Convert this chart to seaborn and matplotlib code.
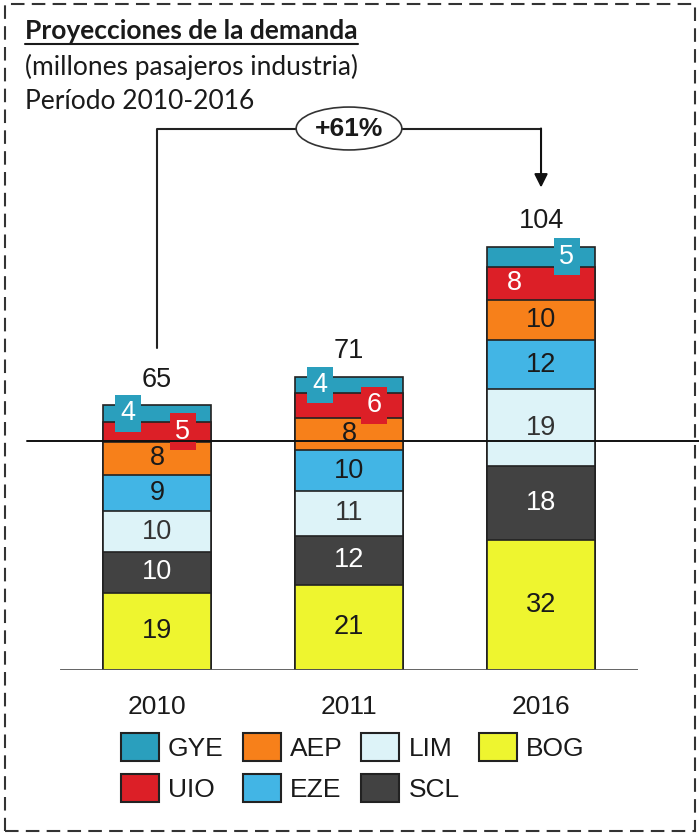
import pandas as pd
import seaborn as sns
import matplotlib.pyplot as plt
from matplotlib.patches import Patch, Rectangle
from matplotlib.lines import Line2D

# Data (millions of passengers)
years = ['2010', '2011', '2016']
airports = ['GYE', 'UIO', 'AEP', 'EZE', 'LIM', 'SCL', 'BOG']  # top to bottom of each bar
gye = [4, 4, 5]
uio = [5, 6, 8]
aep = [8, 8, 10]
eze = [9, 10, 12]
lim = [10, 11, 19]
scl = [10, 12, 18]
bog = [19, 21, 32]
totals = [65, 71, 104]
growth_label = '+61%'

title = 'Proyecciones de la demanda'
subtitle = '(millones pasajeros industria)'
period = 'Período 2010-2016'

# Styles
colors = {'GYE': '#2a9fbd', 'UIO': '#dc1f27', 'AEP': '#f7801a', 'EZE': '#42b5e5',
          'LIM': '#ddf3f8', 'SCL': '#424242', 'BOG': '#eef52f'}
text_colors = {'GYE': 'white', 'UIO': 'white', 'AEP': '#1a1a1a', 'EZE': '#1a1a1a',
               'LIM': '#333333', 'SCL': 'white', 'BOG': '#1a1a1a'}
# horizontal nudges of the small-segment labels (fraction of category step)
label_dx = {'GYE': [-0.15, -0.15, 0.135], 'UIO': [0.135, 0.13, -0.14]}
num_font = 'Liberation Sans'
head_font = 'Lato'

values = {'GYE': gye, 'UIO': uio, 'AEP': aep, 'EZE': eze, 'LIM': lim, 'SCL': scl, 'BOG': bog}
rows = []
for i, y in enumerate(years):
    cum = 0
    for a in reversed(airports):  # stack from the bottom (BOG) upward
        v = values[a][i]
        rows.append({'year': y, 'airport': a, 'value': v, 'bottom': cum, 'top': cum + v})
        cum += v
df = pd.DataFrame(rows)

sns.set_style('white')
plt.rcParams['font.family'] = [num_font, 'DejaVu Sans']

W, H = 699, 835
fig = plt.figure(figsize=(W / 100, H / 100), dpi=100)
ax = fig.add_axes([60 / W, (H - 670) / H, (638 - 60) / W, (670 - 100) / H])

# stacked bars: draw cumulative tops, tallest first
for a in airports:
    sub = df[df['airport'] == a]
    sns.barplot(data=sub, x='year', y='top', order=years, color=colors[a], saturation=1,
                width=0.5625, edgecolor='#222222', linewidth=1.2, errorbar=None, ax=ax, zorder=2)

ax.set_xlim(-0.505, 2.505)
ax.set_ylim(0, 140)
sns.despine(ax=ax, left=True, bottom=True)
ax.set_yticks([])
ax.set_xlabel('')
ax.set_ylabel('')
ax.axhline(0, color='#555555', lw=2, zorder=3)
ax.tick_params(axis='x', length=0, pad=18, labelsize=19, labelcolor='#1a1a1a')

# segment labels
for _, r in df.iterrows():
    i = years.index(r['year'])
    a = r['airport']
    x = i + label_dx.get(a, [0, 0, 0])[i]
    y = (r['bottom'] + r['top']) / 2
    bbox = None
    if r['value'] <= 6:
        bbox = dict(boxstyle='square,pad=0.2', fc=colors[a], ec='none')
    ax.text(x, y, str(r['value']), ha='center', va='center', fontsize=19.5,
            color=text_colors[a], bbox=bbox, zorder=6)

# totals above bars
for i, y in enumerate(years):
    top = df[df['year'] == y]['top'].max()
    ax.annotate(str(totals[i]), xy=(i, top), xytext=(0, 18.5), textcoords='offset points',
                ha='center', va='center', fontsize=19.5, color='#1a1a1a')

# growth bracket 2010 -> 2016
top0 = df[df['year'] == years[0]]['top'].max()
top2 = df[df['year'] == years[2]]['top'].max()
yb = 133
ax.plot([0, 0, 2], [top0 + 14, yb, yb], color='#222222', lw=1.5, zorder=4, clip_on=False)
ax.annotate('', xy=(2, top2 + 14.5), xytext=(2, yb),
            arrowprops=dict(arrowstyle='-|>', color='#111111', lw=1.5,
                            mutation_scale=20, shrinkA=0, shrinkB=0), zorder=4)
ax.text(1, yb, growth_label, ha='center', va='center', fontsize=19, fontweight='bold',
        color='#1a1a1a', zorder=5,
        bbox=dict(boxstyle='ellipse,pad=0.12', fc='white', ec='#333333', lw=1.2))

# stray horizontal rule crossing the chart
fig.add_artist(Line2D([27 / W, 1.0], [(H - 441) / H] * 2, color='#111111', lw=1.4, zorder=4))

# titles
head = dict(family=[head_font, 'DejaVu Sans'], fontsize=19, color='#1a1a1a', va='baseline')
t = fig.text(25 / W, (H - 39) / H, title, fontweight='bold', **head)
fig.text(25 / W, (H - 75) / H, subtitle, **head)
fig.text(25 / W, (H - 109) / H, period, **head)
fig.canvas.draw()
bb = t.get_window_extent()
fig.add_artist(Line2D([bb.x0 / W, bb.x1 / W], [(H - 44) / H] * 2, color='#1a1a1a', lw=1.5))

# legend
handles = [Patch(facecolor=colors[a], edgecolor='#222222', lw=1.5, label=a) for a in airports]
fig.legend(handles=handles, loc='upper left', bbox_to_anchor=(121 / W, (H - 733) / H),
           ncol=4, frameon=False, fontsize=19, borderpad=0, handlelength=1.44,
           handleheight=1.25, handletextpad=0.34, columnspacing=0.72, labelspacing=0.5,
           borderaxespad=0, labelcolor='#1a1a1a')

# dashed frame
fig.add_artist(Rectangle((5 / W, 4 / H), 690 / W, 827 / H, fill=False, ec='#333333',
                         lw=1.5, ls=(0, (6.5, 3.5))))

fig.savefig('out.png', dpi=100)
